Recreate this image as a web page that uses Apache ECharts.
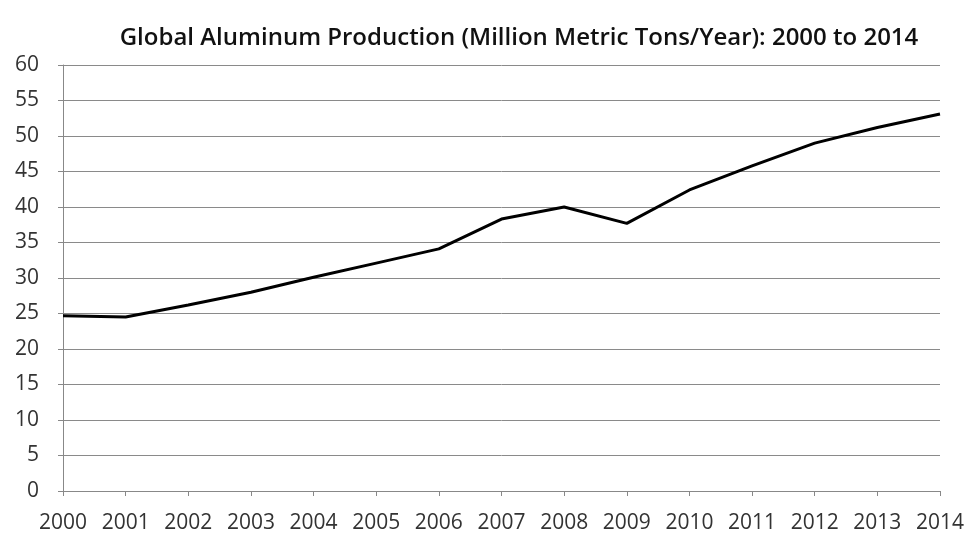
<!DOCTYPE html>
<html><head><meta charset="utf-8">
<script src="https://cdn.jsdelivr.net/npm/echarts@6/dist/echarts.min.js"></script>
<style>html,body{margin:0;padding:0;background:#fff}#c{width:968px;height:537px}</style>
</head><body><div id="c"></div>
<script>
const years = ['2000','2001','2002','2003','2004','2005','2006','2007','2008','2009','2010','2011','2012','2013','2014'];
const production = [24.7,24.5,26.2,28.0,30.1,32.1,34.1,38.3,40.0,37.7,42.4,45.8,49.0,51.2,53.1];
const chart = echarts.init(document.getElementById('c'), null, {renderer:'canvas'});
chart.setOption({
  animation:false,
  backgroundColor:'#fff',
  title:{text:'Global Aluminum Production (Million Metric Tons/Year): 2000 to 2014',left:514,textAlign:'center',top:21,
    textStyle:{fontFamily:'Open Sans',fontWeight:600,fontSize:24,color:'#111'}},
  grid:{left:63,right:28,top:65,bottom:46},
  xAxis:{type:'category',data:years,boundaryGap:false,
    axisLine:{lineStyle:{color:'#888',width:1}},
    axisTick:{show:true,alignWithLabel:true,length:5,lineStyle:{color:'#888'}},
    axisLabel:{color:'#333',fontSize:21,fontFamily:'Open Sans',margin:22,interval:0},
    splitLine:{show:false}},
  yAxis:{type:'value',min:0,max:60,interval:5,
    axisLine:{show:true,lineStyle:{color:'#888',width:1}},
    axisTick:{show:true,length:5,lineStyle:{color:'#888'}},
    axisLabel:{color:'#333',fontSize:21,fontFamily:'Open Sans',margin:24},
    splitLine:{lineStyle:{color:'#8a8a8a',width:1}}},
  series:[{type:'line',data:production,symbol:'none',lineStyle:{color:'#000',width:3}}]
});
</script></body></html>
